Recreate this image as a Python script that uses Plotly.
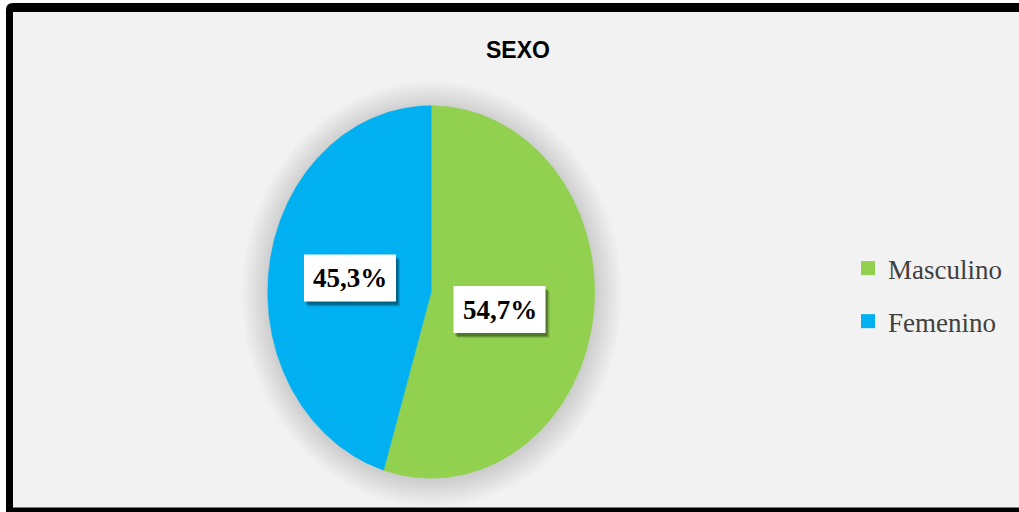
import numpy as np
import plotly.graph_objects as go

# ---- data ----
categories = ["Masculino", "Femenino"]
percentages = [54.7, 45.3]
label_texts = ["54,7%", "45,3%"]
colors = ["#92D050", "#00B0F0"]
title_text = "SEXO"

# ---- layout geometry (pixels) ----
W, H = 1019, 512
CX, CY, RX, RY = 431.2, 292.0, 163.5, 186.3
LABEL_POS = [(499.5, 309.5), (350.0, 278.0)]
BOX_W, BOX_H = 92, 47

fig = go.Figure()
shapes = []

# frame: grey panel + black left/top/bottom borders (right edge is cut off)
shapes.append(dict(type="rect", xref="x", yref="y", layer="below",
                   x0=13, x1=W + 20, y0=12, y1=507.5,
                   fillcolor="#F2F2F2", line=dict(width=0)))
r = 7
shapes.append(dict(type="path", xref="x", yref="y", layer="below",
                   path=f"M6,{H + 5} L6,{3+r} Q6,3 {6+r},3 L{W + 20},3 L{W + 20},12 "
                        f"L13,12 L13,{H + 5} Z",
                   fillcolor="#000000", line=dict(width=0)))
shapes.append(dict(type="rect", xref="x", yref="y", layer="below",
                   x0=6, x1=W + 20, y0=507.5, y1=H + 5,
                   fillcolor="#000000", line=dict(width=0)))

# soft pie shadow
def ellipse_path(cx, cy, rx, ry, n=120):
    t = np.linspace(0, 2 * np.pi, n)
    pts = [f"{cx + rx*np.sin(a):.2f},{cy - ry*np.cos(a):.2f}" for a in t]
    return "M" + " L".join(pts) + " Z"

for k in range(18, 0, -1):
    e = k * 1.5
    shapes.append(dict(type="path", xref="x", yref="y", layer="below",
                       path=ellipse_path(CX + 0.5, CY + 2, RX + e, RY + e),
                       fillcolor="rgba(0,0,0,0.008)", line=dict(width=0)))

# pie slices drawn from the data
start = 0.0
total = sum(percentages)
for cat, val, col in zip(categories, percentages, colors):
    span = 2 * np.pi * val / total
    t = np.linspace(start, start + span, 300)
    xs = [CX] + list(CX + RX * np.sin(t)) + [CX]
    ys = [CY] + list(CY - RY * np.cos(t)) + [CY]
    fig.add_trace(go.Scatter(x=xs, y=ys, mode="lines", fill="toself",
                             fillcolor=col, line=dict(width=0.5, color=col),
                             hoverinfo="skip", showlegend=False))
    start += span

# legend entries
for cat, col in zip(categories, colors):
    fig.add_trace(go.Scatter(x=[None], y=[None], mode="markers", name=cat,
                             legendgroup=cat,
                             marker=dict(symbol="square", size=14, color=col)))

# data labels
annotations = []
for (lx, ly), txt in zip(LABEL_POS, label_texts):
    for dx, dy, a in [(4, 5, 0.12), (3, 4, 0.18), (2, 3, 0.2)]:
        shapes.append(dict(type="rect", xref="x", yref="y", layer="above",
                           x0=lx - BOX_W/2 + dx, x1=lx + BOX_W/2 + dx,
                           y0=ly - BOX_H/2 + dy, y1=ly + BOX_H/2 + dy,
                           fillcolor=f"rgba(0,0,0,{a})", line=dict(width=0)))
    shapes.append(dict(type="rect", xref="x", yref="y", layer="above",
                       x0=lx - BOX_W/2, x1=lx + BOX_W/2,
                       y0=ly - BOX_H/2, y1=ly + BOX_H/2,
                       fillcolor="#FFFFFF", line=dict(width=0)))
    annotations.append(dict(x=lx, y=ly, xref="x", yref="y", text=txt,
                            showarrow=False, xanchor="center", yanchor="middle",
                            font=dict(family="Liberation Serif", size=27,
                                      color="#000000", weight="bold")))

annotations.append(dict(x=518, y=50, xref="x", yref="y", text=title_text,
                        showarrow=False, xanchor="center", yanchor="middle",
                        font=dict(family="Liberation Sans Narrow, Arial Narrow, Liberation Sans",
                                  size=23, color="#000000", weight="bold")))

fig.update_layout(
    width=W, height=H, autosize=False,
    margin=dict(l=0, r=0, t=0, b=0, pad=0),
    paper_bgcolor="#FFFFFF", plot_bgcolor="rgba(0,0,0,0)",
    xaxis=dict(range=[0, W], visible=False, fixedrange=True),
    yaxis=dict(range=[H, 0], visible=False, fixedrange=True),
    shapes=shapes, annotations=annotations,
    showlegend=True,
    legend=dict(x=848/W, y=1 - 244/H, xanchor="left", yanchor="top",
                bgcolor="rgba(0,0,0,0)", tracegroupgap=15,
                font=dict(family="Liberation Serif", size=27, color="#404040")),
    hovermode=False,
)

fig.write_html(
    "out.html", config={"displayModeBar": False},
    post_script=("document.documentElement.style.overflow='hidden';"
                 "document.body.style.margin='0';"
                 "document.body.style.overflow='hidden';"
                 "document.body.style.background='#F2F2F2';"))
